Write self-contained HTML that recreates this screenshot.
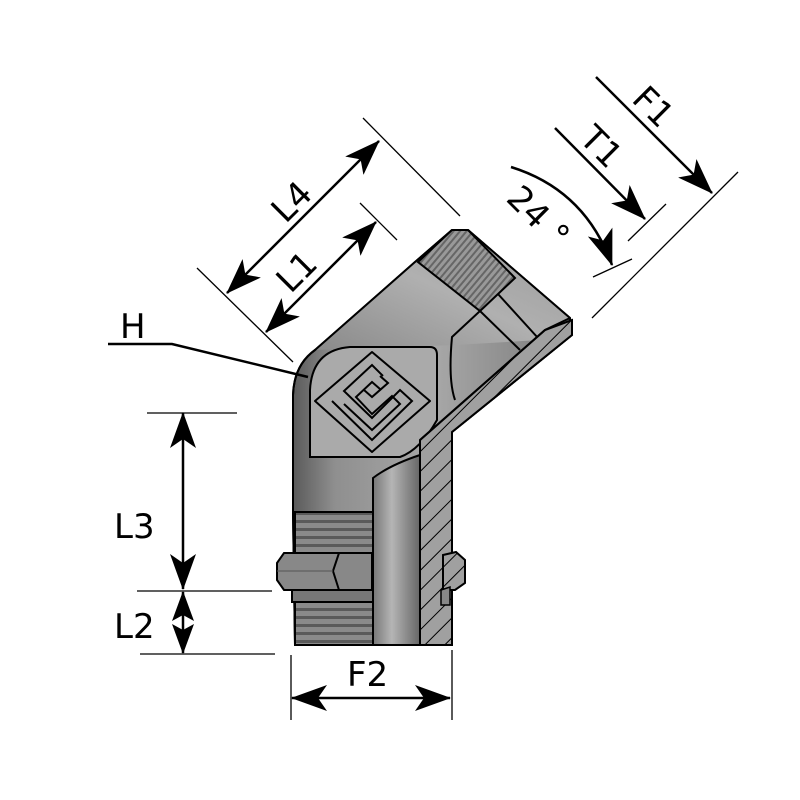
<!DOCTYPE html>
<html><head><meta charset="utf-8"><style>
html,body{margin:0;padding:0;background:#fff;}
svg{display:block;}
text{font-family:"DejaVu Sans","Liberation Sans",sans-serif;font-size:34px;fill:#000;}
</style></head><body>
<svg width="800" height="800" viewBox="0 0 800 800" xmlns="http://www.w3.org/2000/svg">
<defs>
<marker id="ar" viewBox="0 0 36 26" refX="35" refY="13" markerWidth="36" markerHeight="26" markerUnits="userSpaceOnUse" orient="auto-start-reverse">
<path d="M0,0 L36,13 L0,26 L9,13 Z" fill="#000"/>
</marker>
<marker id="as" viewBox="0 0 30 22" refX="29" refY="11" markerWidth="30" markerHeight="22" markerUnits="userSpaceOnUse" orient="auto-start-reverse">
<path d="M0,0 L30,11 L0,22 L6,11 Z" fill="#000"/>
</marker>
<linearGradient id="gv" x1="0" x2="1" y1="0" y2="0">
<stop offset="0" stop-color="#5a5a5a"/><stop offset="0.15" stop-color="#8f8f8f"/><stop offset="0.5" stop-color="#a8a8a8"/><stop offset="1" stop-color="#7a7a7a"/>
</linearGradient>
<linearGradient id="gb" x1="0" x2="1" y1="0" y2="0">
<stop offset="0" stop-color="#777"/><stop offset="0.4" stop-color="#b5b5b5"/><stop offset="1" stop-color="#666"/>
</linearGradient>
<linearGradient id="ga" x1="0" y1="1" x2="1" y2="0">
<stop offset="0" stop-color="#8a8a8a"/><stop offset="0.5" stop-color="#b0b0b0"/><stop offset="1" stop-color="#999"/>
</linearGradient>
<pattern id="hatch" width="14" height="14" patternUnits="userSpaceOnUse" patternTransform="rotate(45)">
<rect width="14" height="14" fill="#a0a0a0"/><line x1="0" y1="0" x2="0" y2="14" stroke="#000" stroke-width="2"/>
</pattern>
<pattern id="thr" width="8" height="8" patternUnits="userSpaceOnUse">
<rect width="8" height="8" fill="#8a8a8a"/><rect y="0" width="8" height="3" fill="#5a5a5a"/>
</pattern>
<pattern id="knurl" width="5" height="5" patternUnits="userSpaceOnUse" patternTransform="rotate(40)">
<rect width="5" height="5" fill="#999"/><rect width="2" height="5" fill="#666"/>
</pattern>
</defs>

<path d="M293,512 L293,395 Q294,365 315,350 L415,262 L452,230 L468,230 L570,318 L572,335 L535,365 L452,432 L452,645 L295,645 Z" fill="url(#gv)" stroke="#000" stroke-width="2"/>
<path d="M315,350 L415,262 L452,230 L468,230 L570,318 L540,340 L455,345 Z" fill="url(#ga)" stroke="none"/>
<path d="M293,512 L293,395 Q294,365 315,350 L415,262 L452,230 L468,230 L570,318 L572,335 L535,365 L452,432 L452,645 L295,645 Z" fill="none" stroke="#000" stroke-width="2"/>
<path d="M418,262 L452,230 L468,230 L515,278 L480,311 Z" fill="url(#knurl)" stroke="#000" stroke-width="2"/>
<line x1="480" y1="311" x2="520" y2="350" stroke="#000" stroke-width="2"/>
<line x1="498" y1="294" x2="538" y2="338" stroke="#000" stroke-width="2"/>
<path d="M480,311 L452,337 Q448,380 455,400" fill="none" stroke="#000" stroke-width="2"/>
<path d="M310,457 L310,390 Q312,350 350,347 L430,347 Q437,347 437,355 L437,420 Q420,450 400,457 Z" fill="#aaa" stroke="#000" stroke-width="2"/>
<g fill="none" stroke="#000" stroke-width="2">
<path d="M315,401 L372,352 L430,401 L372,452 Z" stroke-linejoin="round"/>
<path d="M332,401 L372,440 L412,401 L400,390 L372,418 L344,391 L372,365 L383,376"/>
<path d="M344,404 L372,430 L400,404 L392,396 L372,414 L356,397 L372,382 L380,389"/>
<path d="M364,390 L372,397 L388,383 L380,376"/>
</g>
<rect x="295" y="512" width="78" height="133" fill="url(#thr)" stroke="#000" stroke-width="2"/>
<line x1="293" y1="512" x2="373" y2="512" stroke="#000" stroke-width="2"/>
<path d="M284,553 L372,553 L372,590 L284,590 L277,580 L277,563 Z" fill="#888" stroke="#000" stroke-width="2"/>
<path d="M339,553 L333,571 L339,590" fill="none" stroke="#000" stroke-width="2"/>
<line x1="333" y1="571" x2="277" y2="571" stroke="#555" stroke-width="1"/>
<rect x="292" y="590" width="81" height="12" fill="#777" stroke="#000" stroke-width="2"/>
<path d="M373,478 Q390,465 420,455 L420,645 L373,645 Z" fill="url(#gb)" stroke="#000" stroke-width="2"/>
<path d="M420,440 L545,330 L572,320 L572,335 L452,432 L452,645 L420,645 Z" fill="url(#hatch)" stroke="#000" stroke-width="2"/>
<path d="M420,440 L545,330 L570,318" fill="none" stroke="#000" stroke-width="2"/>
<path d="M443,555 L456,552 L465,560 L465,583 L455,590 L443,590 Z" fill="url(#hatch)" stroke="#000" stroke-width="2"/>
<path d="M441,590 L450,587 L450,605 L441,605 Z" fill="#888" stroke="#000" stroke-width="1.5"/>

<g stroke="#000" fill="none">
<line x1="197" y1="268" x2="293" y2="362" stroke-width="1.3"/>
<line x1="363" y1="118" x2="460" y2="216" stroke-width="1.3"/>
<line x1="360" y1="203" x2="397" y2="240" stroke-width="1.3"/>
<line x1="227" y1="293" x2="379" y2="141" stroke-width="2.5" marker-start="url(#ar)" marker-end="url(#ar)"/>
<line x1="266" y1="332" x2="376" y2="222" stroke-width="2.5" marker-start="url(#ar)" marker-end="url(#ar)"/>
<polyline points="108,344 172,344 308,377" stroke-width="2.5"/>
<line x1="147" y1="413" x2="237" y2="413" stroke-width="1.3"/>
<line x1="137" y1="591" x2="272" y2="591" stroke-width="1.3"/>
<line x1="140" y1="654" x2="275" y2="654" stroke-width="1.3"/>
<line x1="183" y1="413" x2="183" y2="589" stroke-width="2.5" marker-start="url(#ar)" marker-end="url(#ar)"/>
<line x1="183" y1="620" x2="183" y2="592" stroke-width="2.5" marker-end="url(#as)"/>
<line x1="183" y1="620" x2="183" y2="653" stroke-width="2.5" marker-end="url(#as)"/>
<line x1="291" y1="655" x2="291" y2="720" stroke-width="1.3"/>
<line x1="452" y1="650" x2="452" y2="720" stroke-width="1.3"/>
<line x1="292" y1="698" x2="450" y2="698" stroke-width="2.5" marker-start="url(#ar)" marker-end="url(#ar)"/>
<line x1="596" y1="77" x2="712" y2="193" stroke-width="2.5" marker-end="url(#ar)"/>
<line x1="592" y1="318" x2="738" y2="172" stroke-width="1.3"/>
<line x1="555" y1="128" x2="645" y2="219" stroke-width="2.5" marker-end="url(#ar)"/>
<line x1="628" y1="241" x2="666" y2="204" stroke-width="1.3"/>
<path d="M511,167 Q585,190 612,265" stroke-width="2.5" marker-end="url(#ar)"/>
<line x1="593" y1="277" x2="632" y2="259" stroke-width="1.3"/>
</g>
<text x="0" y="0" transform="translate(300,210) rotate(-45)" text-anchor="middle">L4</text>
<text x="0" y="0" transform="translate(305,280) rotate(-45)" text-anchor="middle">L1</text>
<text x="120" y="338">H</text>
<text x="114" y="538">L3</text>
<text x="114" y="638">L2</text>
<text x="347" y="686">F2</text>
<text x="0" y="0" transform="translate(645,115) rotate(45)" text-anchor="middle">F1</text>
<text x="0" y="0" transform="translate(593,155) rotate(45)" text-anchor="middle">T1</text>
<text x="0" y="0" transform="translate(530,225) rotate(45)" text-anchor="middle">24 °</text>
</svg>
</body></html>
